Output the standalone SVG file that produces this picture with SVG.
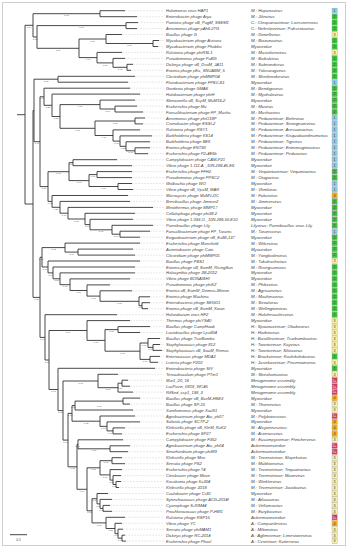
<svg xmlns="http://www.w3.org/2000/svg" width="348" height="550" viewBox="0 0 348 550">
<style>
.fr{fill:#fff;stroke:#cfcfcf;stroke-width:1}
.tr{fill:none;stroke:#333;stroke-width:.9}
.dt{fill:none;stroke:#9a9a9a;stroke-width:.45;stroke-dasharray:.5 1}
.lb{font-family:'Liberation Sans',Arial,sans-serif;font-style:italic;font-size:4.1px;fill:#444}
.tx{font-family:'Liberation Sans',Arial,sans-serif;font-style:italic;font-size:4.3px;fill:#444}
.sv{font-family:'Liberation Sans',Arial,sans-serif;font-size:2.4px;fill:#555;text-anchor:middle}
.bx{stroke:#888;stroke-width:.3}
.c1{fill:#8dcfea}.c2{fill:#3fc43f}.c3{fill:#f7f2a8}.c4{fill:#f0b414}.c5{fill:#d43a5f}
.bn{font-family:'Liberation Sans',Arial,sans-serif;font-size:3.6px;text-anchor:middle;fill:#333}
.bw{fill:#fff}
</style>
<rect class="fr" x="2.5" y="2.5" width="343" height="543"/>
<g id="connectors">
<path class="tr" d="M17,114.7H25 M25,25.3V204 M25,25.3H33 M25,204H33
M33,13.7V37 M33,13.7H100 M33,37H37
M100,10.7V16.7 M100,10.7H125 M100,16.7H137
M37,25.6V48.3 M37,25.6H126 M37,48.3H79
M126,22.6V28.6 M126,22.6H138 M126,28.6H137
M79,39V57.6 M79,39H106 M79,57.6H97
M106,34.5V43.5 M106,34.5H122 M106,43.5H153
M153,40.5V46.5 M153,40.5H159 M153,46.5H158
M97,52.4V62.9 M97,52.4H122 M97,62.9H113
M113,58.4V67.3 M113,58.4H125 M113,67.3H127
M127,64.3V70.3 M127,64.3H133 M127,70.3H131
M33,110.5V297.4 M33,110.5H34 M33,297.4H40
M34,79.2V141.7 M34,79.2H58 M34,141.7H40
M58,76.3V82.2 M58,76.3H135 M58,82.2H128
M40,96.8V186.6 M40,96.8H44 M40,186.6H48
M44,88.2V105.3 M44,88.2H130 M44,105.3H52
M52,94.1V116.5 M52,94.1H140 M52,116.5H60
M60,104.6V128.3 M60,104.6H100 M60,128.3H95
M100,100.1V109 M100,100.1H135 M100,109H115
M115,106.1V112 M115,106.1H137 M115,112H143
M95,121V135.5 M95,121H135 M95,135.5H113
M135,118V123.9 M135,118H145 M135,123.9H143
M113,129.9V141.1 M113,129.9H140 M113,141.1H120
M120,135.9V146.3 M120,135.9H152 M120,146.3H126
M126,141.8V150.8 M126,141.8H150 M126,150.8H135
M135,147.8V153.7 M135,147.8H150 M135,153.7H148
M48,171.7V201.4 M48,171.7H69 M48,201.4H52
M69,162.7V180.6 M69,162.7H73 M69,180.6H89
M73,159.7V165.7 M73,159.7H117 M73,165.7H132
M89,174.6V186.5 M89,174.6H97 M89,186.5H118
M97,171.6V177.6 M97,171.6H132 M97,177.6H132
M118,183.5V189.5 M118,183.5H132 M118,189.5H133
M52,195.5V207.3 M52,195.5H128 M52,207.3H60
M60,201.4V213.2 M60,201.4H130 M60,213.2H68
M68,207.4V219 M68,207.4H153 M68,219H85
M85,213.3V224.6 M85,213.3H135 M85,224.6H90
M90,219.3V229.8 M90,219.3H133 M90,229.8H112
M112,225.3V234.2 M112,225.3H153 M112,234.2H120
M120,231.2V237.2 M120,231.2H150 M120,237.2H140
M40,257.3V337.4 M40,257.3H42 M40,337.4H45
M42,247.6V267 M42,247.6H65 M42,267H48
M65,243.1V252.1 M65,243.1H140 M65,252.1H78
M78,249.1V255.1 M78,249.1H133 M78,255.1H135
M48,261V272.9 M48,261H140 M48,272.9H53
M53,267V278.8 M53,267H135 M53,278.8H60
M60,272.9V284.7 M60,272.9H135 M60,284.7H70
M70,278.9V290.5 M70,278.9H130 M70,290.5H87
M87,284.9V296.1 M87,284.9H110 M87,296.1H100
M100,290.8V301.3 M100,290.8H132 M100,301.3H139
M139,296.8V305.7 M139,296.8H150 M139,305.7H142
M142,302.7V308.7 M142,302.7H150 M142,308.7H148
M45,314.7V360 M45,314.7H117 M45,360H49
M49,330.5V389.5 M49,330.5H87 M49,389.5H58
M87,320.6V340.4 M87,320.6H130 M87,340.4H105
M105,329.6V351.2 M105,329.6H118 M105,351.2H140
M118,326.6V332.5 M118,326.6H150 M118,332.5H140
M140,343V359.4 M140,343H148 M140,359.4H150
M148,338.5V347.4 M148,338.5H160 M148,347.4H153
M153,344.5V350.4 M153,344.5H160 M153,350.4H162
M150,356.4V362.3 M150,356.4H160 M150,362.3H158
M58,368.3V410.6 M58,368.3H155 M58,410.6H63
M63,381V440.1 M63,381H98 M63,440.1H68
M98,374.3V387.7 M98,374.3H118 M98,387.7H118
M118,383.2V392.1 M118,383.2H122 M118,392.1H133
M122,380.2V386.2 M122,380.2H128 M122,386.2H130
M68,413.4V466.8 M68,413.4H72 M68,466.8H77
M72,405.6V421.2 M72,405.6H75 M72,421.2H100
M75,401.1V410 M75,401.1H123 M75,410H133
M123,398.1V404.1 M123,398.1H140 M123,404.1H130
M100,416V426.4 M100,416H135 M100,426.4H107
M107,421.9V430.9 M107,421.9H140 M107,430.9H113
M113,427.9V433.9 M113,427.9H125 M113,433.9H122
M77,444.3V489.3 M77,444.3H78 M77,489.3H87
M78,439.8V448.8 M78,439.8H123 M78,448.8H110
M110,445.8V451.7 M110,445.8H130 M110,451.7H128
M87,467.8V510.8 M87,467.8H100 M87,510.8H92
M100,460.7V474.9 M100,460.7H112 M100,474.9H110
M112,457.7V463.7 M112,457.7H122 M112,463.7H125
M110,469.6V480.1 M110,469.6H122 M110,480.1H113
M113,475.6V484.5 M113,475.6H121 M113,484.5H116
M116,481.5V487.5 M116,481.5H121 M116,487.5H119
M92,498.7V522.9 M92,498.7H97 M92,522.9H106
M97,493.5V503.9 M97,493.5H108 M97,503.9H100
M100,499.4V508.4 M100,499.4H112 M100,508.4H103
M103,505.4V511.3 M103,505.4H110 M103,511.3H112
M106,517.3V528.5 M106,517.3H125 M106,528.5H115
M115,523.3V533.7 M115,523.3H122 M115,533.7H118
M118,529.2V538.2 M118,529.2H123 M118,538.2H122
M122,535.2V541.1 M122,535.2H125 M122,541.1H126"/>
<path class="dt" d="M125,10.7H164 M137,16.7H164 M138,22.6H164 M137,28.6H164 M122,34.5H164 M159,40.5H164 M158,46.5H164 M122,52.4H164 M125,58.4H164 M133,64.3H164 M131,70.3H164 M135,76.3H164 M128,82.2H164 M130,88.2H164 M140,94.1H164 M135,100.1H164 M137,106.1H164 M143,112H164 M145,118H164 M143,123.9H164 M140,129.9H164 M152,135.9H164 M150,141.8H164 M150,147.8H164 M148,153.7H164 M117,159.7H164 M132,165.7H164 M132,171.6H164 M132,177.6H164 M132,183.5H164 M133,189.5H164 M128,195.5H164 M130,201.4H164 M153,207.4H164 M135,213.3H164 M133,219.3H164 M153,225.3H164 M150,231.2H164 M140,237.2H164 M140,243.1H164 M133,249.1H164 M135,255.1H164 M140,261H164 M135,267H164 M135,272.9H164 M130,278.9H164 M110,284.9H164 M132,290.8H164 M150,296.8H164 M150,302.7H164 M148,308.7H164 M117,314.7H164 M130,320.6H164 M150,326.6H164 M140,332.5H164 M160,338.5H164 M160,344.5H164 M162,350.4H164 M160,356.4H164 M158,362.3H164 M155,368.3H164 M118,374.3H164 M128,380.2H164 M130,386.2H164 M133,392.1H164 M140,398.1H164 M130,404.1H164 M133,410H164 M135,416H164 M140,421.9H164 M125,427.9H164 M122,433.9H164 M123,439.8H164 M130,445.8H164 M128,451.7H164 M122,457.7H164 M125,463.7H164 M122,469.6H164 M121,475.6H164 M121,481.5H164 M119,487.5H164 M108,493.5H164 M112,499.4H164 M110,505.4H164 M112,511.3H164 M125,517.3H164 M122,523.3H164 M123,529.2H164 M125,535.2H164 M126,541.1H164"/>
</g>
<g id="support">
<text class="sv" x="29" y="27.9">0.94</text><text class="sv" x="66.5" y="16.3">1.00</text><text class="sv" x="35" y="39.6">0.93</text><text class="sv" x="81.5" y="28.2">1.00</text><text class="sv" x="58" y="50.9">1.00</text><text class="sv" x="92.5" y="41.6">0.89</text><text class="sv" x="129.5" y="46.1">1.00</text><text class="sv" x="88" y="60.2">0.97</text><text class="sv" x="105" y="65.5">0.80</text><text class="sv" x="120" y="69.9">0.98</text>
<text class="sv" x="46" y="81.8">0.63</text><text class="sv" x="37" y="144.3">0.97</text><text class="sv" x="42" y="99.4">0.74</text><text class="sv" x="48" y="107.9">0.58</text><text class="sv" x="56" y="119.1">0.82</text><text class="sv" x="80" y="107.2">0.76</text><text class="sv" x="107.5" y="111.6">0.98</text><text class="sv" x="77.5" y="130.9">1.00</text><text class="sv" x="115" y="123.6">1.00</text><text class="sv" x="104" y="138.1">0.69</text><text class="sv" x="116.5" y="143.7">0.98</text><text class="sv" x="123" y="148.9">0.72</text><text class="sv" x="130.5" y="153.4">0.98</text>
<text class="sv" x="44" y="189.2">0.89</text><text class="sv" x="58.5" y="174.3">0.76</text><text class="sv" x="71" y="165.3">0.99</text><text class="sv" x="79" y="183.2">0.98</text><text class="sv" x="93" y="177.2">0.91</text><text class="sv" x="103.5" y="189.1">1.00</text><text class="sv" x="50" y="204">0.93</text><text class="sv" x="56" y="209.9">0.81</text><text class="sv" x="64" y="215.8">0.79</text><text class="sv" x="76.5" y="221.6">0.81</text><text class="sv" x="87.5" y="227.2">0.96</text><text class="sv" x="101" y="232.4">0.98</text><text class="sv" x="116" y="236.8">0.98</text>
<text class="sv" x="36.5" y="300">0.98</text><text class="sv" x="41" y="259.9">1.00</text><text class="sv" x="53.5" y="250.2">0.63</text><text class="sv" x="71.5" y="254.7">0.67</text><text class="sv" x="45" y="269.6">0.66</text><text class="sv" x="50.5" y="275.5">0.99</text><text class="sv" x="56.5" y="281.4">0.87</text><text class="sv" x="65" y="287.3">0.97</text><text class="sv" x="78.5" y="293.1">0.86</text><text class="sv" x="93.5" y="298.7">0.90</text><text class="sv" x="119.5" y="303.9">1.00</text><text class="sv" x="140.5" y="308.3">0.76</text>
<text class="sv" x="42.5" y="340">0.96</text><text class="sv" x="47" y="362.6">0.86</text><text class="sv" x="68" y="333.1">0.97</text><text class="sv" x="96" y="343">1.00</text><text class="sv" x="111.5" y="332.2">1.00</text><text class="sv" x="122.5" y="353.8">0.98</text><text class="sv" x="144" y="345.6">0.97</text><text class="sv" x="150.5" y="350">1.00</text><text class="sv" x="145" y="362">0.79</text>
<text class="sv" x="53.5" y="392.1">0.91</text><text class="sv" x="60.5" y="413.2">0.88</text><text class="sv" x="80.5" y="383.6">0.98</text><text class="sv" x="108" y="390.3">1.00</text><text class="sv" x="120" y="388.8">0.87</text><text class="sv" x="65.5" y="442.7">0.97</text><text class="sv" x="70" y="416">0.97</text><text class="sv" x="73.5" y="408.2">1.00</text><text class="sv" x="99" y="406.7">1.00</text><text class="sv" x="86" y="423.8">0.82</text><text class="sv" x="103.5" y="429">0.71</text><text class="sv" x="110" y="433.5">0.99</text>
<text class="sv" x="72.5" y="469.4">0.72</text><text class="sv" x="77.5" y="446.9">0.97</text><text class="sv" x="94" y="451.4">1.00</text><text class="sv" x="82" y="491.9">0.99</text><text class="sv" x="93.5" y="470.4">1.00</text><text class="sv" x="106" y="463.3">0.96</text><text class="sv" x="105" y="477.5">0.90</text><text class="sv" x="111.5" y="482.7">0.82</text><text class="sv" x="114.5" y="487.1">0.95</text><text class="sv" x="89.5" y="513.4">0.92</text><text class="sv" x="94.5" y="501.3">0.83</text><text class="sv" x="98.5" y="506.5">0.88</text><text class="sv" x="101.5" y="511">0.92</text><text class="sv" x="99" y="525.5">1.00</text><text class="sv" x="110.5" y="531.1">1.00</text><text class="sv" x="116.5" y="536.3">0.91</text><text class="sv" x="120" y="540.8">0.99</text>
</g>
<g id="n1" transform="translate(0,10.7)"><text class="lb" x="166" y="1.5">Halomonas virus HAP1</text><text class="tx" x="251" y="1.5">M.: Hapunavirus</text><rect class="bx c1" x="332" y="-2.6" width="5.2" height="5.2"/><text class="bn" x="334.6" y="1.3">1</text></g>
<g id="n2" transform="translate(0,16.7)"><text class="lb" x="166" y="1.5">Enterobacter phage Arya</text><text class="tx" x="251" y="1.5">M.: Jilinvirus</text><rect class="bx c2" x="332" y="-2.6" width="5.2" height="5.2"/><text class="bn" x="334.6" y="1.3">2</text></g>
<g id="n3" transform="translate(0,22.6)"><text class="lb" x="166" y="1.5">Pantoea phage vB_PagM_SSEM1</text><text class="tx" x="251" y="1.5">C.: Cleopatravirinae; Loessnervirus</text><rect class="bx c2" x="332" y="-2.6" width="5.2" height="5.2"/><text class="bn" x="334.6" y="1.3">2</text></g>
<g id="n4" transform="translate(0,28.6)"><text class="lb" x="166" y="1.5">Aeromonas phage pAh6.2TG</text><text class="tx" x="251" y="1.5">C.: Nefertitivirinae; Pahsextavirus</text><rect class="bx c2" x="332" y="-2.6" width="5.2" height="5.2"/><text class="bn" x="334.6" y="1.3">2</text></g>
<g id="n5" transform="translate(0,34.5)"><text class="lb" x="166" y="1.5">Bacillus phage G</text><text class="tx" x="251" y="1.5">M.: Donellivirus</text><rect class="bx c3" x="332" y="-2.6" width="5.2" height="5.2"/><text class="bn" x="334.6" y="1.3">3</text></g>
<g id="n6" transform="translate(0,40.5)"><text class="lb" x="166" y="1.5">Mycobacterium phage Astraea</text><text class="tx" x="251" y="1.5">M.: Bixzunavirus</text><rect class="bx c2" x="332" y="-2.6" width="5.2" height="5.2"/><text class="bn" x="334.6" y="1.3">2</text></g>
<g id="n7" transform="translate(0,46.5)"><text class="lb" x="166" y="1.5">Mycobacterium phage Phabba</text><text class="tx" x="251" y="1.5">Myoviridae</text><rect class="bx c2" x="332" y="-2.6" width="5.2" height="5.2"/><text class="bn" x="334.6" y="1.3">2</text></g>
<g id="n8" transform="translate(0,52.4)"><text class="lb" x="166" y="1.5">Ralstonia phage phiRSL1</text><text class="tx" x="251" y="1.5">M.: Mastafarnvirus</text><rect class="bx c3" x="332" y="-2.6" width="5.2" height="5.2"/><text class="bn" x="334.6" y="1.3">3</text></g>
<g id="n9" transform="translate(0,58.4)"><text class="lb" x="166" y="1.5">Pseudomonas phage PaBG</text><text class="tx" x="251" y="1.5">M.: Baikalvirus</text><rect class="bx c2" x="332" y="-2.6" width="5.2" height="5.2"/><text class="bn" x="334.6" y="1.3">2</text></g>
<g id="n10" transform="translate(0,64.3)"><text class="lb" x="166" y="1.5">Dickeya phage vB_DsoM_JA11</text><text class="tx" x="251" y="1.5">M.: Salmondvirus</text><rect class="bx c2" x="332" y="-2.6" width="5.2" height="5.2"/><text class="bn" x="334.6" y="1.3">2</text></g>
<g id="n11" transform="translate(0,70.3)"><text class="lb" x="166" y="1.5">Erwinia phage pEa_SNUABM_5</text><text class="tx" x="251" y="1.5">M.: Yoloswagvirus</text><rect class="bx c2" x="332" y="-2.6" width="5.2" height="5.2"/><text class="bn" x="334.6" y="1.3">2</text></g>
<g id="n12" transform="translate(0,76.3)"><text class="lb" x="166" y="1.5">Clostridium phage phiMMP04</text><text class="tx" x="251" y="1.5">M.: Sherbrookevirus</text><rect class="bx c2" x="332" y="-2.6" width="5.2" height="5.2"/><text class="bn" x="334.6" y="1.3">2</text></g>
<g id="n13" transform="translate(0,82.2)"><text class="lb" x="166" y="1.5">Flavobacterium phage FPSV-S1</text><text class="tx" x="251" y="1.5">Myoviridae</text><rect class="bx c1" x="332" y="-2.6" width="5.2" height="5.2"/><text class="bn" x="334.6" y="1.3">1</text></g>
<g id="n14" transform="translate(0,88.2)"><text class="lb" x="166" y="1.5">Gordonia phage GMA6</text><text class="tx" x="251" y="1.5">M.: Bendigovirus</text><rect class="bx c2" x="332" y="-2.6" width="5.2" height="5.2"/><text class="bn" x="334.6" y="1.3">2</text></g>
<g id="n15" transform="translate(0,94.1)"><text class="lb" x="166" y="1.5">Halobacterium phage phiH</text><text class="tx" x="251" y="1.5">M.: Myohalovirus</text><rect class="bx c2" x="332" y="-2.6" width="5.2" height="5.2"/><text class="bn" x="334.6" y="1.3">2</text></g>
<g id="n16" transform="translate(0,100.1)"><text class="lb" x="166" y="1.5">Shewanella vB_SspM_MuM16-2</text><text class="tx" x="251" y="1.5">Myoviridae</text><rect class="bx c2" x="332" y="-2.6" width="5.2" height="5.2"/><text class="bn" x="334.6" y="1.3">2</text></g>
<g id="n17" transform="translate(0,106.1)"><text class="lb" x="166" y="1.5">Escherichia phage Mu</text><text class="tx" x="251" y="1.5">M.: Muvirus</text><rect class="bx c2" x="332" y="-2.6" width="5.2" height="5.2"/><text class="bn" x="334.6" y="1.3">2</text></g>
<g id="n18" transform="translate(0,112)"><text class="lb" x="166" y="1.5">Faecalibacterium phage FP_Mushu</text><text class="tx" x="251" y="1.5">M.: Mushuvirus</text><rect class="bx c2" x="332" y="-2.6" width="5.2" height="5.2"/><text class="bn" x="334.6" y="1.3">2</text></g>
<g id="n19" transform="translate(0,118)"><text class="lb" x="166" y="1.5">Aeromonas phage phiO18P</text><text class="tx" x="251" y="1.5">M.: Peduovirinae; Bielevirus</text><rect class="bx c1" x="332" y="-2.6" width="5.2" height="5.2"/><text class="bn" x="334.6" y="1.3">1</text></g>
<g id="n20" transform="translate(0,123.9)"><text class="lb" x="166" y="1.5">Cronobacter phage ESSI-2</text><text class="tx" x="251" y="1.5">M.: Peduovirinae; Seongnamvirus</text><rect class="bx c1" x="332" y="-2.6" width="5.2" height="5.2"/><text class="bn" x="334.6" y="1.3">1</text></g>
<g id="n21" transform="translate(0,129.9)"><text class="lb" x="166" y="1.5">Ralstonia phage RSY1</text><text class="tx" x="251" y="1.5">M.: Peduovirinae; Aresaunavirus</text><rect class="bx c1" x="332" y="-2.6" width="5.2" height="5.2"/><text class="bn" x="334.6" y="1.3">1</text></g>
<g id="n22" transform="translate(0,135.9)"><text class="lb" x="166" y="1.5">Burkholderia phage KS14</text><text class="tx" x="251" y="1.5">M.: Peduovirinae; Kisquattuordecimvirus</text><rect class="bx c1" x="332" y="-2.6" width="5.2" height="5.2"/><text class="bn" x="334.6" y="1.3">1</text></g>
<g id="n23" transform="translate(0,141.8)"><text class="lb" x="166" y="1.5">Burkholderia phage BEK</text><text class="tx" x="251" y="1.5">M.: Peduovirinae; Tigrvirus</text><rect class="bx c1" x="332" y="-2.6" width="5.2" height="5.2"/><text class="bn" x="334.6" y="1.3">1</text></g>
<g id="n24" transform="translate(0,147.8)"><text class="lb" x="166" y="1.5">Erwinia phage ENT90</text><text class="tx" x="251" y="1.5">M.: Peduovirinae; Entnonagintavirus</text><rect class="bx c1" x="332" y="-2.6" width="5.2" height="5.2"/><text class="bn" x="334.6" y="1.3">1</text></g>
<g id="n25" transform="translate(0,153.7)"><text class="lb" x="166" y="1.5">Escherichia phage P2-4E6b</text><text class="tx" x="251" y="1.5">M.: Peduovirinae; Peduovirus</text><rect class="bx c1" x="332" y="-2.6" width="5.2" height="5.2"/><text class="bn" x="334.6" y="1.3">1</text></g>
<g id="n26" transform="translate(0,159.7)"><text class="lb" x="166" y="1.5">Campylobacter phage CAM-P21</text><text class="tx" x="251" y="1.5">Myoviridae</text><rect class="bx c1" x="332" y="-2.6" width="5.2" height="5.2"/><text class="bn" x="334.6" y="1.3">1</text></g>
<g id="n27" transform="translate(0,165.7)"><text class="lb" x="166" y="1.5">Vibrio phage 1.111.A._10N.286.45.E6</text><text class="tx" x="251" y="1.5">Myoviridae</text><rect class="bx c1" x="332" y="-2.6" width="5.2" height="5.2"/><text class="bn" x="334.6" y="1.3">1</text></g>
<g id="n28" transform="translate(0,171.6)"><text class="lb" x="166" y="1.5">Escherichia phage FFH2</text><text class="tx" x="251" y="1.5">M.: Vequintavirinae; Vequintavirus</text><rect class="bx c2" x="332" y="-2.6" width="5.2" height="5.2"/><text class="bn" x="334.6" y="1.3">2</text></g>
<g id="n29" transform="translate(0,177.6)"><text class="lb" x="166" y="1.5">Pseudomonas phage PPSC2</text><text class="tx" x="251" y="1.5">M.: Otagovirus</text><rect class="bx c2" x="332" y="-2.6" width="5.2" height="5.2"/><text class="bn" x="334.6" y="1.3">2</text></g>
<g id="n30" transform="translate(0,183.5)"><text class="lb" x="166" y="1.5">Wolbachia phage WO</text><text class="tx" x="251" y="1.5">Myoviridae</text><rect class="bx c1" x="332" y="-2.6" width="5.2" height="5.2"/><text class="bn" x="334.6" y="1.3">1</text></g>
<g id="n31" transform="translate(0,189.5)"><text class="lb" x="166" y="1.5">Vibrio phage vB_VpaM_MAR</text><text class="tx" x="251" y="1.5">M.: Vhmlvirus</text><rect class="bx c1" x="332" y="-2.6" width="5.2" height="5.2"/><text class="bn" x="334.6" y="1.3">1</text></g>
<g id="n32" transform="translate(0,195.5)"><text class="lb" x="166" y="1.5">Microcystis phage MaMV-DC</text><text class="tx" x="251" y="1.5">M.: Fukuivirus</text><rect class="bx c4" x="332" y="-2.6" width="5.2" height="5.2"/><text class="bn" x="334.6" y="1.3">4</text></g>
<g id="n33" transform="translate(0,201.4)"><text class="lb" x="166" y="1.5">Brevibacillus phage Jimmer2</text><text class="tx" x="251" y="1.5">M.: Jimmervirus</text><rect class="bx c2" x="332" y="-2.6" width="5.2" height="5.2"/><text class="bn" x="334.6" y="1.3">2</text></g>
<g id="n34" transform="translate(0,207.4)"><text class="lb" x="166" y="1.5">Meiothermus phage MMP17</text><text class="tx" x="251" y="1.5">Myoviridae</text><rect class="bx c2" x="332" y="-2.6" width="5.2" height="5.2"/><text class="bn" x="334.6" y="1.3">2</text></g>
<g id="n35" transform="translate(0,213.3)"><text class="lb" x="166" y="1.5">Cellulophaga phage phi38:2</text><text class="tx" x="251" y="1.5">Myoviridae</text><rect class="bx c2" x="332" y="-2.6" width="5.2" height="5.2"/><text class="bn" x="334.6" y="1.3">2</text></g>
<g id="n36" transform="translate(0,219.3)"><text class="lb" x="166" y="1.5">Vibrio phage 1.093.O._10N.286.55.E10</text><text class="tx" x="251" y="1.5">Myoviridae</text><rect class="bx c2" x="332" y="-2.6" width="5.2" height="5.2"/><text class="bn" x="334.6" y="1.3">2</text></g>
<g id="n37" transform="translate(0,225.3)"><text class="lb" x="166" y="1.5">Paenibacillus phage Lily</text><text class="tx" x="251" y="1.5">Lilyvirus; Paenibacillus virus Lily</text><rect class="bx c2" x="332" y="-2.6" width="5.2" height="5.2"/><text class="bn" x="334.6" y="1.3">2</text></g>
<g id="n38" transform="translate(0,231.2)"><text class="lb" x="166" y="1.5">Faecalibacterium phage FP_Taranis</text><text class="tx" x="251" y="1.5">M.: Taranisvirus</text><rect class="bx c1" x="332" y="-2.6" width="5.2" height="5.2"/><text class="bn" x="334.6" y="1.3">1</text></g>
<g id="n39" transform="translate(0,237.2)"><text class="lb" x="166" y="1.5">Exiguobacterium phage vB_EalM-137</text><text class="tx" x="251" y="1.5">Myoviridae</text><rect class="bx c2" x="332" y="-2.6" width="5.2" height="5.2"/><text class="bn" x="334.6" y="1.3">2</text></g>
<g id="n40" transform="translate(0,243.1)"><text class="lb" x="166" y="1.5">Escherichia phage Mansfield</text><text class="tx" x="251" y="1.5">M.: Wifcevirus</text><rect class="bx c2" x="332" y="-2.6" width="5.2" height="5.2"/><text class="bn" x="334.6" y="1.3">2</text></g>
<g id="n41" transform="translate(0,249.1)"><text class="lb" x="166" y="1.5">Acinetobacter phage Cato</text><text class="tx" x="251" y="1.5">Myoviridae</text><rect class="bx c2" x="332" y="-2.6" width="5.2" height="5.2"/><text class="bn" x="334.6" y="1.3">2</text></g>
<g id="n42" transform="translate(0,255.1)"><text class="lb" x="166" y="1.5">Clostridium phage phiMMP01</text><text class="tx" x="251" y="1.5">M.: Yongloolinvirus</text><rect class="bx c2" x="332" y="-2.6" width="5.2" height="5.2"/><text class="bn" x="334.6" y="1.3">2</text></g>
<g id="n43" transform="translate(0,261)"><text class="lb" x="166" y="1.5">Bacillus phage PBS1</text><text class="tx" x="251" y="1.5">M.: Takahashivirus</text><rect class="bx c3" x="332" y="-2.6" width="5.2" height="5.2"/><text class="bn" x="334.6" y="1.3">3</text></g>
<g id="n44" transform="translate(0,267)"><text class="lb" x="166" y="1.5">Erwinia phage vB_EamM_RisingSun</text><text class="tx" x="251" y="1.5">M.: Risingsunvirus</text><rect class="bx c2" x="332" y="-2.6" width="5.2" height="5.2"/><text class="bn" x="334.6" y="1.3">2</text></g>
<g id="n45" transform="translate(0,272.9)"><text class="lb" x="166" y="1.5">Halocynthia phage JM-2012</text><text class="tx" x="251" y="1.5">Myoviridae</text><rect class="bx c2" x="332" y="-2.6" width="5.2" height="5.2"/><text class="bn" x="334.6" y="1.3">2</text></g>
<g id="n46" transform="translate(0,278.9)"><text class="lb" x="166" y="1.5">Vibrio phage BONAISHI</text><text class="tx" x="251" y="1.5">Myoviridae</text><rect class="bx c2" x="332" y="-2.6" width="5.2" height="5.2"/><text class="bn" x="334.6" y="1.3">2</text></g>
<g id="n47" transform="translate(0,284.9)"><text class="lb" x="166" y="1.5">Pseudomonas phage phiKZ</text><text class="tx" x="251" y="1.5">M.: Phikzvirus</text><rect class="bx c2" x="332" y="-2.6" width="5.2" height="5.2"/><text class="bn" x="334.6" y="1.3">2</text></g>
<g id="n48" transform="translate(0,290.8)"><text class="lb" x="166" y="1.5">Erwinia vB_EamM_Deimos-Minion</text><text class="tx" x="251" y="1.5">M.: Agricanvirus</text><rect class="bx c2" x="332" y="-2.6" width="5.2" height="5.2"/><text class="bn" x="334.6" y="1.3">2</text></g>
<g id="n49" transform="translate(0,296.8)"><text class="lb" x="166" y="1.5">Erwinia phage Machina</text><text class="tx" x="251" y="1.5">M.: Machinavirus</text><rect class="bx c2" x="332" y="-2.6" width="5.2" height="5.2"/><text class="bn" x="334.6" y="1.3">2</text></g>
<g id="n50" transform="translate(0,302.7)"><text class="lb" x="166" y="1.5">Enterobacteria phage SEGD1</text><text class="tx" x="251" y="1.5">M.: Seoulvirus</text><rect class="bx c2" x="332" y="-2.6" width="5.2" height="5.2"/><text class="bn" x="334.6" y="1.3">2</text></g>
<g id="n51" transform="translate(0,308.7)"><text class="lb" x="166" y="1.5">Erwinia phage vB_EamM_Kwan</text><text class="tx" x="251" y="1.5">M.: Wellingtonvirus</text><rect class="bx c2" x="332" y="-2.6" width="5.2" height="5.2"/><text class="bn" x="334.6" y="1.3">2</text></g>
<g id="n52" transform="translate(0,314.7)"><text class="lb" x="166" y="1.5">Haloruburum virus HF2</text><text class="tx" x="251" y="1.5">M.: Haloferacalesvirus</text><rect class="bx c2" x="332" y="-2.6" width="5.2" height="5.2"/><text class="bn" x="334.6" y="1.3">2</text></g>
<g id="n53" transform="translate(0,320.6)"><text class="lb" x="166" y="1.5">Thermus phage phiYS40</text><text class="tx" x="251" y="1.5">Myoviridae</text><rect class="bx c3" x="332" y="-2.6" width="5.2" height="5.2"/><text class="bn" x="334.6" y="1.3">3</text></g>
<g id="n54" transform="translate(0,326.6)"><text class="lb" x="166" y="1.5">Bacillus phage CampHawk</text><text class="tx" x="251" y="1.5">H.: Spounavirinae; Okubovirus</text><rect class="bx c3" x="332" y="-2.6" width="5.2" height="5.2"/><text class="bn" x="334.6" y="1.3">3</text></g>
<g id="n55" transform="translate(0,332.5)"><text class="lb" x="166" y="1.5">Lactobacillus phage Lpa804</text><text class="tx" x="251" y="1.5">H.: Harbinvirus</text><rect class="bx c3" x="332" y="-2.6" width="5.2" height="5.2"/><text class="bn" x="334.6" y="1.3">3</text></g>
<g id="n56" transform="translate(0,338.5)"><text class="lb" x="166" y="1.5">Bacillus phage TsarBomba</text><text class="tx" x="251" y="1.5">H.: Bastillevirinae; Tsarbombavirus</text><rect class="bx c3" x="332" y="-2.6" width="5.2" height="5.2"/><text class="bn" x="334.6" y="1.3">3</text></g>
<g id="n57" transform="translate(0,344.5)"><text class="lb" x="166" y="1.5">Staphylococcus phage 812</text><text class="tx" x="251" y="1.5">H.: Twortvirinae; Kayvirus</text><rect class="bx c3" x="332" y="-2.6" width="5.2" height="5.2"/><text class="bn" x="334.6" y="1.3">3</text></g>
<g id="n58" transform="translate(0,350.4)"><text class="lb" x="166" y="1.5">Staphylococcus vB_SauM_Remus</text><text class="tx" x="251" y="1.5">H.: Twortvirinae; Silviavirus</text><rect class="bx c3" x="332" y="-2.6" width="5.2" height="5.2"/><text class="bn" x="334.6" y="1.3">3</text></g>
<g id="n59" transform="translate(0,356.4)"><text class="lb" x="166" y="1.5">Enterococcus phage MDA2</text><text class="tx" x="251" y="1.5">H.: Brockvirinae; Kochikohdavirus</text><rect class="bx c2" x="332" y="-2.6" width="5.2" height="5.2"/><text class="bn" x="334.6" y="1.3">2</text></g>
<g id="n60" transform="translate(0,362.3)"><text class="lb" x="166" y="1.5">Listeria phage P200</text><text class="tx" x="251" y="1.5">H.: Jasinkavirinae; Pecentumvirus</text><rect class="bx c3" x="332" y="-2.6" width="5.2" height="5.2"/><text class="bn" x="334.6" y="1.3">3</text></g>
<g id="n61" transform="translate(0,368.3)"><text class="lb" x="166" y="1.5">Enterobacteria phage SfV</text><text class="tx" x="251" y="1.5">Myoviridae</text><rect class="bx c2" x="332" y="-2.6" width="5.2" height="5.2"/><text class="bn" x="334.6" y="1.3">2</text></g>
<g id="n62" transform="translate(0,374.3)"><text class="lb" x="166" y="1.5">Tenacibaculum phage PTm1</text><text class="tx" x="251" y="1.5">M.: Shirahamavirus</text><rect class="bx c3" x="332" y="-2.6" width="5.2" height="5.2"/><text class="bn" x="334.6" y="1.3">3</text></g>
<g id="n63" transform="translate(0,380.2)"><text class="lb" x="166" y="1.5">Mar1_20_16</text><text class="tx" x="251" y="1.5">Metagenome assembly</text><rect class="bx c5" x="332" y="-2.6" width="5.2" height="5.2"/><text class="bn bw" x="334.6" y="1.3">5+</text></g>
<g id="n64" transform="translate(0,386.2)"><text class="lb" x="166" y="1.5">LacPavin_0818_WC45</text><text class="tx" x="251" y="1.5">Metagenome assembly</text><rect class="bx c5" x="332" y="-2.6" width="5.2" height="5.2"/><text class="bn bw" x="334.6" y="1.3">5+</text></g>
<g id="n65" transform="translate(0,392.1)"><text class="lb" x="166" y="1.5">RifSed_csp1_198_3</text><text class="tx" x="251" y="1.5">Metagenome assembly</text><rect class="bx c5" x="332" y="-2.6" width="5.2" height="5.2"/><text class="bn bw" x="334.6" y="1.3">5+</text></g>
<g id="n66" transform="translate(0,398.1)"><text class="lb" x="166" y="1.5">Bacillus phage vB_BceM-HSE3</text><text class="tx" x="251" y="1.5">Myoviridae</text><rect class="bx c4" x="332" y="-2.6" width="5.2" height="5.2"/><text class="bn" x="334.6" y="1.3">4</text></g>
<g id="n67" transform="translate(0,404.1)"><text class="lb" x="166" y="1.5">Bacillus phage SP-15</text><text class="tx" x="251" y="1.5">M.: Thornevirus</text><rect class="bx c3" x="332" y="-2.6" width="5.2" height="5.2"/><text class="bn" x="334.6" y="1.3">3</text></g>
<g id="n68" transform="translate(0,410)"><text class="lb" x="166" y="1.5">Xanthomonas phage XacN1</text><text class="tx" x="251" y="1.5">Myoviridae</text><rect class="bx c3" x="332" y="-2.6" width="5.2" height="5.2"/><text class="bn" x="334.6" y="1.3">3</text></g>
<g id="n69" transform="translate(0,416)"><text class="lb" x="166" y="1.5">Agrobacterium phage Atu_ph07</text><text class="tx" x="251" y="1.5">M.: Polybotosvirus</text><rect class="bx c5" x="332" y="-2.6" width="5.2" height="5.2"/><text class="bn bw" x="334.6" y="1.3">5+</text></g>
<g id="n70" transform="translate(0,421.9)"><text class="lb" x="166" y="1.5">Salicola phage SCTP-2</text><text class="tx" x="251" y="1.5">Myoviridae</text><rect class="bx c4" x="332" y="-2.6" width="5.2" height="5.2"/><text class="bn" x="334.6" y="1.3">4</text></g>
<g id="n71" transform="translate(0,427.9)"><text class="lb" x="166" y="1.5">Klebsiella phage vB_KleM_RaK2</text><text class="tx" x="251" y="1.5">M.: Alcyoneusvirus</text><rect class="bx c4" x="332" y="-2.6" width="5.2" height="5.2"/><text class="bn" x="334.6" y="1.3">4</text></g>
<g id="n72" transform="translate(0,433.9)"><text class="lb" x="166" y="1.5">Escherichia phage SP27</text><text class="tx" x="251" y="1.5">M.: Asteriusvirus</text><rect class="bx c4" x="332" y="-2.6" width="5.2" height="5.2"/><text class="bn" x="334.6" y="1.3">4</text></g>
<g id="n73" transform="translate(0,439.8)"><text class="lb" x="166" y="1.5">Campylobacter phage F352</text><text class="tx" x="251" y="1.5">M.: Eucampyvirinae; Fletchervirus</text><rect class="bx c3" x="332" y="-2.6" width="5.2" height="5.2"/><text class="bn" x="334.6" y="1.3">3</text></g>
<g id="n74" transform="translate(0,445.8)"><text class="lb" x="166" y="1.5">Agrobacterium phage Atu_ph04</text><text class="tx" x="251" y="1.5">Ackermannviridae</text><rect class="bx c5" x="332" y="-2.6" width="5.2" height="5.2"/><text class="bn bw" x="334.6" y="1.3">5+</text></g>
<g id="n75" transform="translate(0,451.7)"><text class="lb" x="166" y="1.5">Sinorhizobium phage phiM9</text><text class="tx" x="251" y="1.5">Ackermannviridae</text><rect class="bx c5" x="332" y="-2.6" width="5.2" height="5.2"/><text class="bn bw" x="334.6" y="1.3">5+</text></g>
<g id="n76" transform="translate(0,457.7)"><text class="lb" x="166" y="1.5">Klebsiella phage Miro</text><text class="tx" x="251" y="1.5">M.: Tevenvirinae; Slopekvirus</text><rect class="bx c3" x="332" y="-2.6" width="5.2" height="5.2"/><text class="bn" x="334.6" y="1.3">3</text></g>
<g id="n77" transform="translate(0,463.7)"><text class="lb" x="166" y="1.5">Serratia phage PS2</text><text class="tx" x="251" y="1.5">M.: Muldoonvirus</text><rect class="bx c3" x="332" y="-2.6" width="5.2" height="5.2"/><text class="bn" x="334.6" y="1.3">3</text></g>
<g id="n78" transform="translate(0,469.6)"><text class="lb" x="166" y="1.5">Escherichia phage T4</text><text class="tx" x="251" y="1.5">M.: Tevenvirinae; Tequatrovirus</text><rect class="bx c3" x="332" y="-2.6" width="5.2" height="5.2"/><text class="bn" x="334.6" y="1.3">3</text></g>
<g id="n79" transform="translate(0,475.6)"><text class="lb" x="166" y="1.5">Citrobacter phage Moon</text><text class="tx" x="251" y="1.5">M.: Tevenvirinae; Moonvirus</text><rect class="bx c3" x="332" y="-2.6" width="5.2" height="5.2"/><text class="bn" x="334.6" y="1.3">3</text></g>
<g id="n80" transform="translate(0,481.5)"><text class="lb" x="166" y="1.5">Kosakonia phage Kc304</text><text class="tx" x="251" y="1.5">M.: Winklervirus</text><rect class="bx c3" x="332" y="-2.6" width="5.2" height="5.2"/><text class="bn" x="334.6" y="1.3">3</text></g>
<g id="n81" transform="translate(0,487.5)"><text class="lb" x="166" y="1.5">Klebsiella phage JD18</text><text class="tx" x="251" y="1.5">M.: Tevenvirinae; Jiaodavirus</text><rect class="bx c3" x="332" y="-2.6" width="5.2" height="5.2"/><text class="bn" x="334.6" y="1.3">3</text></g>
<g id="n82" transform="translate(0,493.5)"><text class="lb" x="166" y="1.5">Caulobacter phage Cr30</text><text class="tx" x="251" y="1.5">Myoviridae</text><rect class="bx c3" x="332" y="-2.6" width="5.2" height="5.2"/><text class="bn" x="334.6" y="1.3">3</text></g>
<g id="n83" transform="translate(0,499.4)"><text class="lb" x="166" y="1.5">Synechococcus phage ACG-2014f</text><text class="tx" x="251" y="1.5">M.: Atlauavirus</text><rect class="bx c3" x="332" y="-2.6" width="5.2" height="5.2"/><text class="bn" x="334.6" y="1.3">3</text></g>
<g id="n84" transform="translate(0,505.4)"><text class="lb" x="166" y="1.5">Cyanophage S-RIM44</text><text class="tx" x="251" y="1.5">M.: Vellamovirus</text><rect class="bx c3" x="332" y="-2.6" width="5.2" height="5.2"/><text class="bn" x="334.6" y="1.3">3</text></g>
<g id="n85" transform="translate(0,511.3)"><text class="lb" x="166" y="1.5">Prochlorococcus phage P-HM1</text><text class="tx" x="251" y="1.5">M.: Eurybiavirus</text><rect class="bx c3" x="332" y="-2.6" width="5.2" height="5.2"/><text class="bn" x="334.6" y="1.3">3</text></g>
<g id="n86" transform="translate(0,517.3)"><text class="lb" x="166" y="1.5">Ralstonia phage RSP15</text><text class="tx" x="251" y="1.5">Ackermannviridae</text><rect class="bx c5" x="332" y="-2.6" width="5.2" height="5.2"/><text class="bn bw" x="334.6" y="1.3">5+</text></g>
<g id="n87" transform="translate(0,523.3)"><text class="lb" x="166" y="1.5">Vibrio phage YC</text><text class="tx" x="251" y="1.5">A.: Campanilevirus</text><rect class="bx c4" x="332" y="-2.6" width="5.2" height="5.2"/><text class="bn" x="334.6" y="1.3">4</text></g>
<g id="n88" transform="translate(0,529.2)"><text class="lb" x="166" y="1.5">Serratia phage phiMAM1</text><text class="tx" x="251" y="1.5">A.: Miltonvirus</text><rect class="bx c3" x="332" y="-2.6" width="5.2" height="5.2"/><text class="bn" x="334.6" y="1.3">3</text></g>
<g id="n89" transform="translate(0,535.2)"><text class="lb" x="166" y="1.5">Dickeya phage RC-2014</text><text class="tx" x="251" y="1.5">A.: Aglimvirinae; Limestonevirus</text><rect class="bx c3" x="332" y="-2.6" width="5.2" height="5.2"/><text class="bn" x="334.6" y="1.3">3</text></g>
<g id="n90" transform="translate(0,541.1)"><text class="lb" x="166" y="1.5">Escherichia phage PhaxI</text><text class="tx" x="251" y="1.5">A.: Cvivirinae; Kuttervirus</text><rect class="bx c3" x="332" y="-2.6" width="5.2" height="5.2"/><text class="bn" x="334.6" y="1.3">3</text></g>
<g id="scale"><path class="tr" d="M10,534.7H27"/><text class="sv" x="18.5" y="540.5" style="font-size:3.4px">0.5</text></g>
</svg>
